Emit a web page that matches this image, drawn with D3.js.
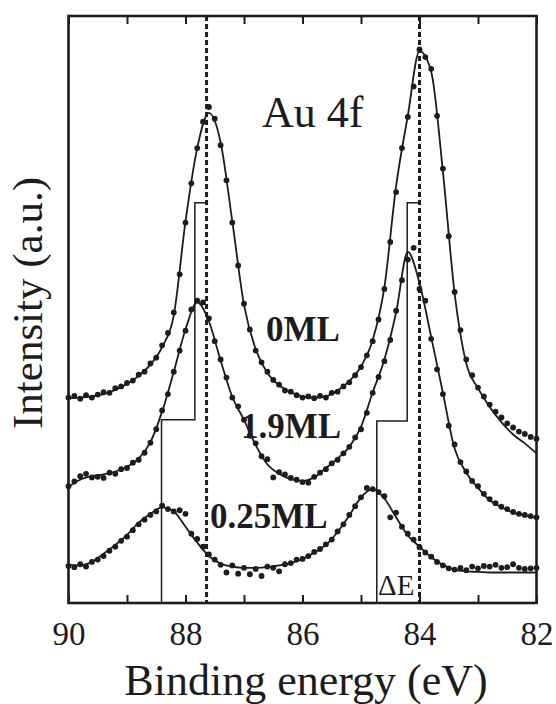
<!DOCTYPE html>
<meta charset="utf-8">
<style>
html,body {
  margin: 0px;
  padding: 0px;
  overflow: hidden;
  background-color: white;
}
text {
  font-family: "Liberation Serif", "Times New Roman", serif;
  fill: #1c1c1c;
}
.tick line { stroke: #1c1c1c; stroke-width: 2px; }
.domain { display: none; }
</style>
<body>
<svg></svg>
</body>
<script src="https://d3js.org/d3.v7.min.js"></script>
<script>

// energy grid (eV), fits sampled every 0.2 eV, points every 0.1 eV
var fitStep = 0.2, dotStep = 0.1;
var labelTicks = [90, 88, 86, 84, 82];
var minorTicks = [90, 89, 88, 87, 86, 85, 84, 83, 82];

// fitted curves, 90.0 -> 82.0 eV
var fit0ML = [34.9,35.0,35.2,35.6,36.3,37.3,38.7,40.6,43.6,49.0,
  65.0,77.5,83.5,78.5,65.0,50.8,43.2,39.2,37.1,35.9,
  35.2,35.0,35.2,36.2,37.8,40.3,44.8,53.8,71.0,83.0,
  94.0,90.5,73.5,52.8,40.8,36.6,33.4,30.8,28.7,27.2,25.5];
var fit19ML = [19.8,21.0,21.6,21.9,22.4,23.2,24.6,27.4,32.6,39.4,
  46.6,51.2,48.0,41.3,35.1,31.2,26.9,23.6,22.0,21.1,
  20.8,21.4,23.0,24.6,26.6,30.0,35.9,41.5,49.5,59.8,
  54.5,45.3,35.8,26.3,22.2,19.6,17.5,16.3,15.4,14.9,14.5];
var fit025ML = [6.5,6.4,7.0,8.4,9.9,11.6,13.7,15.2,16.3,15.6,
  13.0,10.3,8.0,6.7,6.2,6.0,6.0,6.1,6.4,6.8,
  7.5,8.6,9.9,12.1,14.9,18.0,19.4,17.8,14.6,11.5,
  9.6,7.8,6.5,5.7,5.4,5.3,5.2,5.2,5.2,5.2,5.2];

// measured points, 90.0 -> 82.0 eV
var dots0ML = [35.0,35.3,34.8,35.4,35.0,35.5,35.9,35.8,36.6,36.9,
  37.5,37.9,38.9,39.4,40.8,41.8,43.9,46.0,49.5,56.0,
  64.8,71.5,77.5,82.0,84.5,82.5,78.0,72.0,64.8,57.5,
  51.0,46.6,43.0,41.0,39.4,38.0,37.2,36.2,36.0,35.4,
  35.0,35.2,34.9,35.3,35.0,35.8,36.0,36.9,37.6,38.8,
  40.2,42.2,44.6,48.3,53.5,61.5,70.0,77.5,82.8,88.0,
  94.3,93.0,91.0,83.0,74.0,62.5,53.0,46.5,41.5,38.8,
  36.7,35.2,33.8,32.6,31.6,30.6,29.9,29.2,28.8,28.3,28.0];
var dots19ML = [19.9,20.7,21.6,22.0,21.4,21.5,21.3,22.2,22.0,22.8,
  23.0,23.9,24.4,25.6,27.3,29.6,32.8,35.6,39.4,43.0,
  46.4,50.0,51.5,51.2,48.5,44.6,41.5,38.4,35.0,33.5,
  31.2,28.5,27.2,25.0,24.5,21.4,22.3,21.9,21.3,21.0,
  20.6,20.5,21.5,22.2,22.8,23.8,24.4,25.5,26.6,28.2,
  29.6,32.4,35.8,38.5,41.2,44.8,49.8,55.0,58.5,60.5,
  53.5,51.5,45.0,39.8,35.6,30.2,27.0,24.0,22.4,20.8,
  19.9,18.6,17.7,17.0,16.4,16.0,15.5,15.2,15.0,14.8,14.6];
var dots025ML = [6.3,6.1,6.6,6.2,7.0,7.4,8.0,8.9,9.6,10.6,
  11.3,12.4,13.4,14.2,15.0,15.6,16.6,16.0,15.6,15.8,
  15.2,11.8,10.9,9.6,8.3,7.4,6.5,5.2,6.4,5.0,
  6.0,4.9,5.8,4.6,6.2,6.0,5.4,6.6,6.8,7.4,
  7.5,8.0,8.7,9.2,10.0,10.8,12.2,13.4,15.0,16.5,
  18.0,19.6,19.4,18.9,18.2,14.6,15.4,13.0,11.8,10.8,
  9.5,8.6,7.9,7.0,6.4,5.9,5.7,6.0,5.6,6.2,
  5.9,6.3,6.2,6.5,6.0,6.1,6.6,6.0,5.8,5.9,6.0];

var spectra = [
  {name: "0ML",    fit: fit0ML,   dots: dots0ML,   lx: 266, ly: 341},
  {name: "1.9ML",  fit: fit19ML,  dots: dots19ML,  lx: 241, ly: 438},
  {name: "0.25ML", fit: fit025ML, dots: dots025ML, lx: 210, ly: 528}
];

// peak positions of the clean surface (dashed) and shift markers
var peakE = [87.64, 84.0];
var shiftSteps = [
  [[88.41, 0], [88.41, 31.2], [87.84, 31.2], [87.84, 68.2], [87.64, 68.2]],
  [[84.73, 0], [84.73, 31.0], [84.21, 31.0], [84.21, 68.2], [84.0, 68.2]]
];

var W = 556, H = 704;
var mLeft = 68.5, mRight = 536.5, mTop = 16, mBottom = 603;

var svg = d3.select("svg").attr("width", W).attr("height", H);

var x = d3.scaleLinear().domain([90, 82]).range([mLeft, mRight]);
var y = d3.scaleLinear().domain([0, 100]).range([mBottom, mTop]);

function energies(n, step) {
  return d3.range(n).map(function(i) { return +(90 - i * step).toFixed(2); });
}

// ticks + labels
svg.append("g")
  .attr("transform", "translate(0," + mBottom + ")")
  .call(d3.axisBottom(x).tickValues(minorTicks).tickSize(-8).tickPadding(19)
    .tickFormat(function(d) { return labelTicks.indexOf(d) >= 0 ? d : ""; }))
  .selectAll("text").style("font-size", "33px").style("font-family", "Liberation Serif").attr("fill", "#1c1c1c");

svg.append("g")
  .attr("transform", "translate(0," + mTop + ")")
  .call(d3.axisTop(x).tickValues(minorTicks).tickSize(-8).tickFormat(""));

// frame
svg.append("rect")
  .attr("x", mLeft).attr("y", mTop)
  .attr("width", mRight - mLeft).attr("height", mBottom - mTop)
  .attr("fill", "none").attr("stroke", "#1c1c1c").attr("stroke-width", 2.6);

// dashed peak lines
svg.selectAll(".peak").data(peakE).enter().append("line")
  .attr("class", "peak")
  .attr("x1", function(d) { return x(d); }).attr("x2", function(d) { return x(d); })
  .attr("y1", mTop).attr("y2", mBottom)
  .attr("stroke", "#1c1c1c").attr("stroke-width", 3)
  .attr("stroke-dasharray", "5,3");

// shift steps
var stepLine = d3.line().x(function(d) { return x(d[0]); }).y(function(d) { return y(d[1]); });
svg.selectAll(".step").data(shiftSteps).enter().append("path")
  .attr("class", "step")
  .attr("d", stepLine)
  .attr("fill", "none").attr("stroke", "#1c1c1c").attr("stroke-width", 1.5);

// spectra
var fitLine = d3.line()
  .x(function(d) { return x(d[0]); })
  .y(function(d) { return y(d[1]); })
  .curve(d3.curveMonotoneX);

spectra.forEach(function(s) {
  var fe = energies(s.fit.length, fitStep);
  var de = energies(s.dots.length, dotStep);
  svg.append("path")
    .datum(s.fit.map(function(v, i) { return [fe[i], v]; }))
    .attr("d", fitLine)
    .attr("fill", "none").attr("stroke", "#1c1c1c").attr("stroke-width", 1.8);
  svg.append("g").selectAll("circle")
    .data(s.dots.map(function(v, i) { return [de[i], v]; }))
    .enter().append("circle")
    .attr("cx", function(d) { return x(d[0]); })
    .attr("cy", function(d) { return y(d[1]); })
    .attr("r", 2.9)
    .attr("fill", "#1c1c1c");
  svg.append("text")
    .attr("x", s.lx).attr("y", s.ly)
    .attr("font-size", 35).attr("font-weight", "bold")
    .text(s.name);
});

svg.append("text")
  .attr("x", 262).attr("y", 127)
  .attr("font-size", 44)
  .text("Au 4f");

svg.append("text")
  .attr("x", 378).attr("y", 595)
  .attr("font-size", 29)
  .text("\u0394E");

// axis titles
svg.append("text")
  .attr("x", 306).attr("y", 695)
  .attr("text-anchor", "middle")
  .attr("font-size", 44)
  .text("Binding energy (eV)");

svg.append("text")
  .attr("transform", "translate(42,303) rotate(-90)")
  .attr("text-anchor", "middle")
  .attr("font-size", 43)
  .text("Intensity (a.u.)");

</script>
